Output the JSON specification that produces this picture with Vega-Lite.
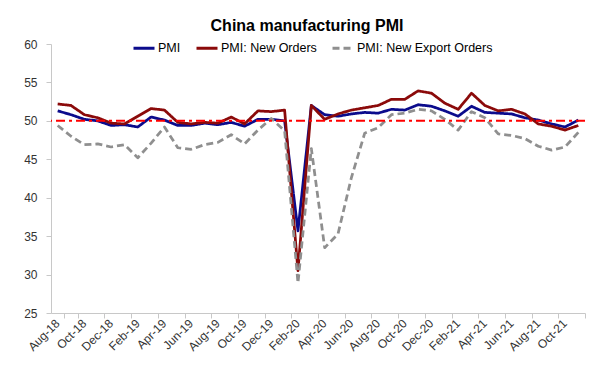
{
  "$schema": "https://vega.github.io/schema/vega-lite/v6.json",
  "width": 534,
  "height": 269,
  "autosize": {"type": "none"},
  "padding": {"left": 51, "top": 44, "right": 26, "bottom": 65},
  "background": "#ffffff",
  "config": {"view": {"stroke": null}, "font": "Liberation Sans", "axisY": {"labelOverlap": false}},
  "title": {"text": "China manufacturing PMI", "font": "Liberation Sans", "fontSize": 16, "fontWeight": "bold", "color": "#000000", "anchor": "middle", "frame": "group", "dx": -11, "dy": 4, "offset": 6},
  "datasets": {
    "pmi": [
      {"month": "Aug-18", "series": "PMI", "value": 51.3},
      {"month": "Sep-18", "series": "PMI", "value": 50.8},
      {"month": "Oct-18", "series": "PMI", "value": 50.2},
      {"month": "Nov-18", "series": "PMI", "value": 50.0},
      {"month": "Dec-18", "series": "PMI", "value": 49.4},
      {"month": "Jan-19", "series": "PMI", "value": 49.5},
      {"month": "Feb-19", "series": "PMI", "value": 49.2},
      {"month": "Mar-19", "series": "PMI", "value": 50.5},
      {"month": "Apr-19", "series": "PMI", "value": 50.1},
      {"month": "May-19", "series": "PMI", "value": 49.4},
      {"month": "Jun-19", "series": "PMI", "value": 49.4},
      {"month": "Jul-19", "series": "PMI", "value": 49.7},
      {"month": "Aug-19", "series": "PMI", "value": 49.5},
      {"month": "Sep-19", "series": "PMI", "value": 49.8},
      {"month": "Oct-19", "series": "PMI", "value": 49.3},
      {"month": "Nov-19", "series": "PMI", "value": 50.2},
      {"month": "Dec-19", "series": "PMI", "value": 50.2},
      {"month": "Jan-20", "series": "PMI", "value": 50.0},
      {"month": "Feb-20", "series": "PMI", "value": 35.7},
      {"month": "Mar-20", "series": "PMI", "value": 52.0},
      {"month": "Apr-20", "series": "PMI", "value": 50.8},
      {"month": "May-20", "series": "PMI", "value": 50.6},
      {"month": "Jun-20", "series": "PMI", "value": 50.9},
      {"month": "Jul-20", "series": "PMI", "value": 51.1},
      {"month": "Aug-20", "series": "PMI", "value": 51.0},
      {"month": "Sep-20", "series": "PMI", "value": 51.5},
      {"month": "Oct-20", "series": "PMI", "value": 51.4},
      {"month": "Nov-20", "series": "PMI", "value": 52.1},
      {"month": "Dec-20", "series": "PMI", "value": 51.9},
      {"month": "Jan-21", "series": "PMI", "value": 51.3},
      {"month": "Feb-21", "series": "PMI", "value": 50.6},
      {"month": "Mar-21", "series": "PMI", "value": 51.9},
      {"month": "Apr-21", "series": "PMI", "value": 51.1},
      {"month": "May-21", "series": "PMI", "value": 51.0},
      {"month": "Jun-21", "series": "PMI", "value": 50.9},
      {"month": "Jul-21", "series": "PMI", "value": 50.4},
      {"month": "Aug-21", "series": "PMI", "value": 50.1},
      {"month": "Sep-21", "series": "PMI", "value": 49.6},
      {"month": "Oct-21", "series": "PMI", "value": 49.2},
      {"month": "Nov-21", "series": "PMI", "value": 50.1},
      {"month": "Aug-18", "series": "PMI: New Orders", "value": 52.2},
      {"month": "Sep-18", "series": "PMI: New Orders", "value": 52.0},
      {"month": "Oct-18", "series": "PMI: New Orders", "value": 50.8},
      {"month": "Nov-18", "series": "PMI: New Orders", "value": 50.4},
      {"month": "Dec-18", "series": "PMI: New Orders", "value": 49.7},
      {"month": "Jan-19", "series": "PMI: New Orders", "value": 49.6},
      {"month": "Feb-19", "series": "PMI: New Orders", "value": 50.6},
      {"month": "Mar-19", "series": "PMI: New Orders", "value": 51.6},
      {"month": "Apr-19", "series": "PMI: New Orders", "value": 51.4},
      {"month": "May-19", "series": "PMI: New Orders", "value": 49.8},
      {"month": "Jun-19", "series": "PMI: New Orders", "value": 49.6},
      {"month": "Jul-19", "series": "PMI: New Orders", "value": 49.8},
      {"month": "Aug-19", "series": "PMI: New Orders", "value": 49.7},
      {"month": "Sep-19", "series": "PMI: New Orders", "value": 50.5},
      {"month": "Oct-19", "series": "PMI: New Orders", "value": 49.6},
      {"month": "Nov-19", "series": "PMI: New Orders", "value": 51.3},
      {"month": "Dec-19", "series": "PMI: New Orders", "value": 51.2},
      {"month": "Jan-20", "series": "PMI: New Orders", "value": 51.4},
      {"month": "Feb-20", "series": "PMI: New Orders", "value": 30.5},
      {"month": "Mar-20", "series": "PMI: New Orders", "value": 52.0},
      {"month": "Apr-20", "series": "PMI: New Orders", "value": 50.2},
      {"month": "May-20", "series": "PMI: New Orders", "value": 50.9},
      {"month": "Jun-20", "series": "PMI: New Orders", "value": 51.4},
      {"month": "Jul-20", "series": "PMI: New Orders", "value": 51.7},
      {"month": "Aug-20", "series": "PMI: New Orders", "value": 52.0},
      {"month": "Sep-20", "series": "PMI: New Orders", "value": 52.8},
      {"month": "Oct-20", "series": "PMI: New Orders", "value": 52.8},
      {"month": "Nov-20", "series": "PMI: New Orders", "value": 53.9},
      {"month": "Dec-20", "series": "PMI: New Orders", "value": 53.6},
      {"month": "Jan-21", "series": "PMI: New Orders", "value": 52.3},
      {"month": "Feb-21", "series": "PMI: New Orders", "value": 51.5},
      {"month": "Mar-21", "series": "PMI: New Orders", "value": 53.6},
      {"month": "Apr-21", "series": "PMI: New Orders", "value": 52.0},
      {"month": "May-21", "series": "PMI: New Orders", "value": 51.3},
      {"month": "Jun-21", "series": "PMI: New Orders", "value": 51.5},
      {"month": "Jul-21", "series": "PMI: New Orders", "value": 50.9},
      {"month": "Aug-21", "series": "PMI: New Orders", "value": 49.6},
      {"month": "Sep-21", "series": "PMI: New Orders", "value": 49.3},
      {"month": "Oct-21", "series": "PMI: New Orders", "value": 48.8},
      {"month": "Nov-21", "series": "PMI: New Orders", "value": 49.4},
      {"month": "Aug-18", "series": "PMI: New Export Orders", "value": 49.4},
      {"month": "Sep-18", "series": "PMI: New Export Orders", "value": 48.0},
      {"month": "Oct-18", "series": "PMI: New Export Orders", "value": 46.9},
      {"month": "Nov-18", "series": "PMI: New Export Orders", "value": 47.0},
      {"month": "Dec-18", "series": "PMI: New Export Orders", "value": 46.6},
      {"month": "Jan-19", "series": "PMI: New Export Orders", "value": 46.9},
      {"month": "Feb-19", "series": "PMI: New Export Orders", "value": 45.2},
      {"month": "Mar-19", "series": "PMI: New Export Orders", "value": 47.1},
      {"month": "Apr-19", "series": "PMI: New Export Orders", "value": 49.2},
      {"month": "May-19", "series": "PMI: New Export Orders", "value": 46.5},
      {"month": "Jun-19", "series": "PMI: New Export Orders", "value": 46.3},
      {"month": "Jul-19", "series": "PMI: New Export Orders", "value": 46.9},
      {"month": "Aug-19", "series": "PMI: New Export Orders", "value": 47.2},
      {"month": "Sep-19", "series": "PMI: New Export Orders", "value": 48.2},
      {"month": "Oct-19", "series": "PMI: New Export Orders", "value": 47.0},
      {"month": "Nov-19", "series": "PMI: New Export Orders", "value": 48.8},
      {"month": "Dec-19", "series": "PMI: New Export Orders", "value": 50.3},
      {"month": "Jan-20", "series": "PMI: New Export Orders", "value": 48.7},
      {"month": "Feb-20", "series": "PMI: New Export Orders", "value": 28.9},
      {"month": "Mar-20", "series": "PMI: New Export Orders", "value": 46.4},
      {"month": "Apr-20", "series": "PMI: New Export Orders", "value": 33.5},
      {"month": "May-20", "series": "PMI: New Export Orders", "value": 35.3},
      {"month": "Jun-20", "series": "PMI: New Export Orders", "value": 42.6},
      {"month": "Jul-20", "series": "PMI: New Export Orders", "value": 48.4},
      {"month": "Aug-20", "series": "PMI: New Export Orders", "value": 49.1},
      {"month": "Sep-20", "series": "PMI: New Export Orders", "value": 50.8},
      {"month": "Oct-20", "series": "PMI: New Export Orders", "value": 51.0},
      {"month": "Nov-20", "series": "PMI: New Export Orders", "value": 51.5},
      {"month": "Dec-20", "series": "PMI: New Export Orders", "value": 51.3},
      {"month": "Jan-21", "series": "PMI: New Export Orders", "value": 50.2},
      {"month": "Feb-21", "series": "PMI: New Export Orders", "value": 48.8},
      {"month": "Mar-21", "series": "PMI: New Export Orders", "value": 51.2},
      {"month": "Apr-21", "series": "PMI: New Export Orders", "value": 50.4},
      {"month": "May-21", "series": "PMI: New Export Orders", "value": 48.3},
      {"month": "Jun-21", "series": "PMI: New Export Orders", "value": 48.1},
      {"month": "Jul-21", "series": "PMI: New Export Orders", "value": 47.7},
      {"month": "Aug-21", "series": "PMI: New Export Orders", "value": 46.7},
      {"month": "Sep-21", "series": "PMI: New Export Orders", "value": 46.2},
      {"month": "Oct-21", "series": "PMI: New Export Orders", "value": 46.6},
      {"month": "Nov-21", "series": "PMI: New Export Orders", "value": 48.5}
    ],
    "threshold": [{"level": 50}]
  },
  "layer": [
    {
      "data": {"name": "pmi"},
      "mark": {"type": "point", "opacity": 0},
      "encoding": {
        "x": {
          "field": "month", "type": "ordinal", "sort": null,
          "scale": {"type": "band", "paddingInner": 0, "paddingOuter": 0},
          "axis": {
            "orient": "bottom", "title": null, "labels": false, "domain": true, "domainColor": "#c8c8c8", "domainWidth": 1,
            "ticks": true, "tickBand": "extent", "tickColor": "#c8c8c8", "tickSize": 5,
            "values": ["Sep-18","Nov-18","Jan-19","Mar-19","May-19","Jul-19","Sep-19","Nov-19","Jan-20","Mar-20","May-20","Jul-20","Sep-20","Nov-20","Jan-21","Mar-21","May-21","Jul-21","Sep-21","Nov-21"],
            "grid": false
          }
        }
      }
    },
    {
      "data": {"name": "pmi"},
      "mark": {"type": "line", "strokeWidth": 2.75, "strokeJoin": "round", "strokeCap": "butt"},
      "encoding": {
        "x": {
          "field": "month", "type": "ordinal", "sort": null,
          "scale": {"type": "band", "paddingInner": 0, "paddingOuter": 0},
          "axis": {
            "orient": "bottom", "title": null, "domain": false, "ticks": false, "grid": false,
            "bandPosition": 0.5,
            "values": ["Aug-18","Oct-18","Dec-18","Feb-19","Apr-19","Jun-19","Aug-19","Oct-19","Dec-19","Feb-20","Apr-20","Jun-20","Aug-20","Oct-20","Dec-20","Feb-21","Apr-21","Jun-21","Aug-21","Oct-21"],
            "labelAngle": -45, "labelAlign": "right", "labelBaseline": "middle", "labelPadding": 8,
            "labelFont": "Liberation Sans", "labelFontSize": 12, "labelColor": "#333333"
          }
        },
        "y": {
          "field": "value", "type": "quantitative",
          "scale": {"domain": [25, 60], "nice": false, "zero": false},
          "axis": {
            "title": null, "values": [25, 30, 35, 40, 45, 50, 55, 60], "grid": false, "labelOverlap": false,
            "domainColor": "#c8c8c8", "tickColor": "#c8c8c8", "tickSize": 5,
            "labelFont": "Liberation Sans", "labelFontSize": 12, "labelColor": "#333333", "labelPadding": 9
          }
        },
        "color": {
          "field": "series", "type": "nominal",
          "scale": {"domain": ["PMI", "PMI: New Orders", "PMI: New Export Orders"], "range": ["#0b0b8c", "#8b0a0a", "#8f8f8f"]},
          "legend": {
            "title": null, "orient": "none", "legendX": 81, "legendY": -8, "direction": "horizontal",
            "symbolType": "stroke", "symbolSize": 441, "symbolStrokeWidth": 3,
            "labelFont": "Liberation Sans", "labelFontSize": 12.5, "labelColor": "#000000",
            "labelOffset": 2, "columnPadding": 9, "padding": 0
          }
        },
        "strokeDash": {
          "field": "series", "type": "nominal",
          "scale": {"domain": ["PMI", "PMI: New Orders", "PMI: New Export Orders"], "range": [[1, 0], [1, 0], [7, 4]]},
          "legend": {
            "title": null, "orient": "none", "legendX": 81, "legendY": -8, "direction": "horizontal",
            "symbolType": "stroke", "symbolSize": 441, "symbolStrokeWidth": 3,
            "labelFont": "Liberation Sans", "labelFontSize": 12.5, "labelColor": "#000000",
            "labelOffset": 2, "columnPadding": 9, "padding": 0
          }
        }
      }
    },
    {
      "data": {"name": "threshold"},
      "mark": {"type": "rule", "color": "#ff0000", "strokeWidth": 2, "strokeDash": [9, 4, 3, 4]},
      "encoding": {
        "y": {
          "field": "level", "type": "quantitative",
          "axis": {
            "title": null, "values": [25, 30, 35, 40, 45, 50, 55, 60], "grid": false, "labelOverlap": false,
            "domainColor": "#c8c8c8", "tickColor": "#c8c8c8", "tickSize": 5,
            "labelFont": "Liberation Sans", "labelFontSize": 12, "labelColor": "#333333", "labelPadding": 9
          }
        }
      }
    }
  ],
  "resolve": {"axis": {"x": "independent"}}
}
